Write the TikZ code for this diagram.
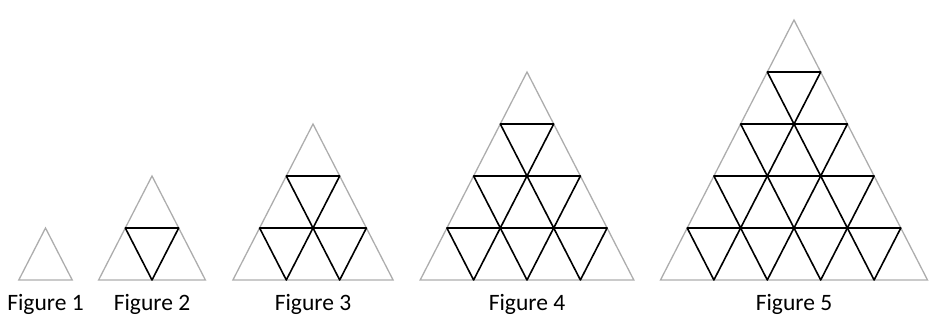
\documentclass[tikz,border=0pt]{standalone}
\usepackage{fontspec}
\setmainfont{Carlito}
\definecolor{edgegray}{gray}{0.68}
\tikzset{
  outline/.style={draw=edgegray, line width=1.3pt},
  downtri/.style={draw=black, line width=1.6pt, line join=round},
  figlabel/.style={anchor=base, font=\fontsize{23.5}{26}\selectfont},
}
\begin{document}
\begin{tikzpicture}[x=1pt,y=1pt]
  \useasboundingbox (0,0) rectangle (929,326);
  \def\w{53.4}
  \def\h{52}
  \foreach \n/\cx in {1/45.5,2/152,3/313,4/527,5/794}{
    % obrys
    \draw[outline] (\cx-\n*\w/2,46) coordinate (L\n)
      -- (\cx+\n*\w/2,46) coordinate (R\n)
      -- (\cx,46+\n*\h) coordinate (T\n) -- cycle;
    % vnitřní trojúhelníky
    \foreach \r in {2,...,5}{
      \ifnum\r>\n\else
        \pgfmathtruncatemacro\last{\r-2}
        \foreach \k in {0,...,\last}{
          \draw[downtri] (\cx-\r*\w/2+\w/2+\k*\w,46+\n*\h-\r*\h+\h)
            -- ++(\w,0) -- ++(-\w/2,-\h) -- cycle;
        }
      \fi
    }
    % popisek
    \node[figlabel] (fig\n) at (\cx,15) {Figure \n};
  }
\end{tikzpicture}
\end{document}
